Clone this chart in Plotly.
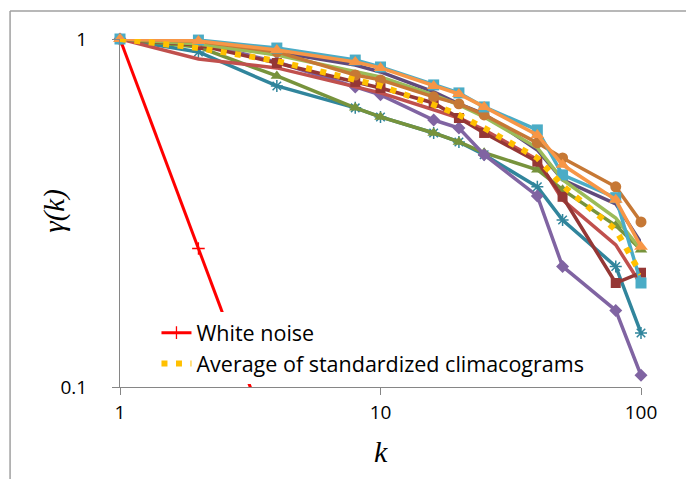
import plotly.graph_objects as go

# aggregation scales
K = [1, 2, 4, 8, 10, 16, 20, 25, 40, 50, 80, 100]

# standardized climacograms
teal_x      = [1, 0.918, 0.733, 0.634, 0.597, 0.537, 0.506, 0.465, 0.376, 0.302, 0.222, 0.143]
olive_tri   = [1, 0.948, 0.783, 0.634, 0.597, 0.537, 0.506, 0.471, 0.421, 0.369, 0.291, 0.248]
purple_dia  = [1, 0.974, 0.859, 0.728, 0.691, 0.585, 0.555, 0.465, 0.354, 0.222, 0.166, 0.108]
red_line    = [1, 0.876, 0.826, 0.728, 0.700, 0.626, 0.593, 0.548, 0.450, 0.345, 0.256, 0.197]
darkred_sq  = [1, 0.961, 0.853, 0.753, 0.723, 0.655, 0.593, 0.537, 0.444, 0.352, 0.199, 0.213]
darkpurple  = [1, 0.980, 0.918, 0.842, 0.804, 0.705, 0.651, 0.609, 0.480, 0.394, 0.336, 0.260]
lightgreen  = [1, 0.967, 0.900, 0.804, 0.778, 0.691, 0.647, 0.597, 0.487, 0.394, 0.306, 0.248]
brown_circ  = [1, 0.985, 0.918, 0.788, 0.763, 0.682, 0.651, 0.605, 0.503, 0.455, 0.376, 0.298]
aqua_sq     = [1, 0.993, 0.942, 0.870, 0.831, 0.738, 0.700, 0.638, 0.548, 0.407, 0.350, 0.199]
orange_tri  = [1, 0.987, 0.930, 0.859, 0.826, 0.733, 0.695, 0.638, 0.530, 0.435, 0.345, 0.253]
average     = [1, 0.942, 0.865, 0.763, 0.733, 0.647, 0.605, 0.555, 0.455, 0.379, 0.283, 0.211]
white_noise = [1, 0.25, 0.0625, 0.015625, 0.01, 0.0039, 0.0025, 0.0016, 0.000625, 0.0004, 0.000156, 0.0001]

series = [
    (teal_x, "#31859C", "asterisk-open", 10),
    (olive_tri, "#77933C", "triangle-up", 11),
    (purple_dia, "#8064A2", "diamond", 10),
    (red_line, "#C0504D", None, 0),
    (darkred_sq, "#953735", "square", 10),
    (darkpurple, "#604A7B", None, 0),
    (lightgreen, "#9BBB59", None, 0),
    (brown_circ, "#C67835", "circle", 11),
    (aqua_sq, "#4BACC6", "square", 11),
    (orange_tri, "#F79646", "triangle-up", 12),
]

fig = go.Figure()

fig.add_trace(go.Scatter(
    x=K, y=white_noise, name="White noise", mode="lines+markers",
    line=dict(color="#FF0000", width=3),
    marker=dict(symbol="cross-thin-open", size=9, line=dict(color="#4F81BD", width=1.3)),
    cliponaxis=True, legendgroup="a", legendrank=1,
))

for vals, col, sym, sz in series:
    if sym is None:
        fig.add_trace(go.Scatter(x=K, y=vals, mode="lines", line=dict(color=col, width=3.5),
                                 showlegend=False, cliponaxis=False))
    else:
        mk = dict(symbol=sym, size=sz, color=col)
        if sym.endswith("open"):
            mk["line"] = dict(color=col, width=1.5)
        fig.add_trace(go.Scatter(x=K, y=vals, mode="lines+markers", line=dict(color=col, width=3.5),
                                 marker=mk, showlegend=False, cliponaxis=False))

fig.add_trace(go.Scatter(
    x=K, y=average, name="Average of standardized climacograms", mode="lines",
    line=dict(color="#FFC000", width=6, dash="6px,8.5px"),
    cliponaxis=False, legendgroup="b", legendrank=2,
))

axis_col = "#868686"
fig.update_xaxes(
    type="log", range=[0, 2], tickvals=[1, 10, 100], ticktext=["1", "10", "100"],
    showline=True, linecolor=axis_col, linewidth=1, ticks="outside", ticklen=7,
    tickcolor=axis_col, showgrid=False, zeroline=False,
    tickfont=dict(family="Open Sans", size=19, color="#000000"), ticklabelstandoff=1,
)
fig.update_yaxes(
    type="log", range=[-1, 0], tickvals=[0.1, 1], ticktext=["0.1", "1"],
    showline=True, linecolor=axis_col, linewidth=1, ticks="outside", ticklen=7,
    tickcolor=axis_col, showgrid=True, gridcolor="#A6A6A6", gridwidth=2, zeroline=False,
    tickfont=dict(family="Open Sans", size=19, color="#000000"), ticklabelstandoff=21,
)

fig.update_layout(
    width=686, height=471,
    margin=dict(l=112, r=52.5, t=31, b=91.5),
    paper_bgcolor="#FFFFFF", plot_bgcolor="#FFFFFF",
    legend=dict(x=0.07, y=0.215, xanchor="left", yanchor="top", bgcolor="#FFFFFF",
                font=dict(family="Open Sans", size=21.5, color="#000000"),
                traceorder="grouped", tracegroupgap=0),
    annotations=[
        dict(text="<i>k</i>", xref="paper", yref="paper", x=0.5, y=-0.185,
             xanchor="center", yanchor="middle", showarrow=False,
             font=dict(family="Liberation Serif", size=30, color="#000000")),
        dict(text="<i>γ(k)</i>", xref="paper", yref="paper", x=-0.125, y=0.506,
             xanchor="center", yanchor="middle", showarrow=False, textangle=-90,
             font=dict(family="Liberation Serif", size=29, color="#000000")),
    ],
    shapes=[
        dict(type="line", xref="paper", yref="paper", x0=-0.211, x1=1.2, y0=1.0803, y1=1.0803,
             line=dict(color="#A0A0A0", width=1.5)),
        dict(type="line", xref="paper", yref="paper", x0=-0.211, x1=-0.211, y0=1.0803, y1=-0.3,
             line=dict(color="#A0A0A0", width=1.5)),
    ],
)

fig.write_html("out.html")
